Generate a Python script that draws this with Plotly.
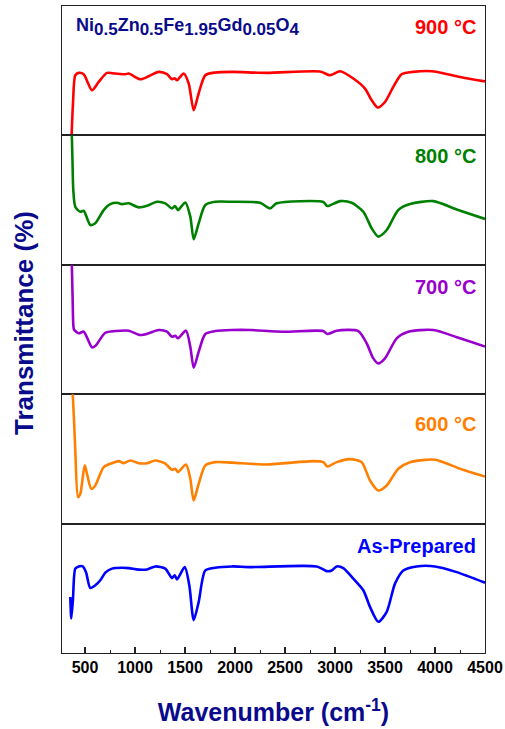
import plotly.graph_objects as go
from plotly.subplots import make_subplots

# Wavenumber (cm^-1) and transmittance (arb. units per panel)
wn_900 = [365, 380, 403, 437, 487, 570, 637, 720, 803, 903, 937, 1053, 1137, 1237, 1320, 1370, 1397, 1420,
          1487, 1537, 1587, 1637, 1703, 1803, 1970, 2317, 2850, 2950, 3050, 3183, 3300, 3367, 3427, 3500,
          3583, 3667, 3783, 3967, 4250, 4500]
t_900 = [-2, 25, 46.5, 48.3, 47.3, 34.9, 41.3, 48.3, 47.8, 47.3, 47.8, 43.4, 45.7, 49.1, 47.3, 43.4, 44.2, 42.6,
         47.8, 40.1, 19.4, 32.6, 46.5, 48.6, 49.1, 48.3, 49.4, 46.5, 49.6, 44.0, 36.2, 27.1, 21.5, 25.8,
         37.5, 47.3, 49.1, 49.6, 45.2, 41.7]

wn_800 = [367, 375, 383, 403, 453, 487, 553, 603, 687, 753, 820, 870, 937, 1037, 1120, 1220, 1303, 1370, 1400,
          1430, 1503, 1553, 1587, 1637, 1703, 1803, 1970, 2250, 2350, 2417, 2883, 2923, 3050, 3167, 3283,
          3367, 3433, 3517, 3633, 3750, 3983, 4217, 4500]
t_800 = [104, 80, 57.7, 44.8, 41.0, 41.8, 30.8, 32.1, 42.3, 46.9, 47.9, 46.9, 47.5, 44.4, 45.6, 48.7, 47.5, 43.6,
         45.4, 42.3, 48.2, 37.2, 19.8, 32.1, 46.2, 48.7, 48.7, 47.9, 43.6, 47.5, 48.5, 45.4, 49.2, 47.9, 41.0,
         28.2, 21.8, 26.9, 42.3, 46.9, 49.2, 42.8, 35.4]

wn_700 = [367, 376, 383, 390, 437, 487, 570, 603, 703, 803, 937, 1053, 1137, 1237, 1320, 1370, 1403, 1430, 1510,
          1553, 1587, 1637, 1703, 1803, 1970, 2150, 2483, 2883, 2923, 3017, 3233, 3317, 3383, 3433, 3500,
          3617, 3733, 3983, 4250, 4500]
t_700 = [104, 75, 53.5, 50.0, 47.1, 48.3, 36.2, 37.2, 47.5, 48.8, 49.1, 45.7, 47.1, 49.6, 48.3, 44.4, 45.2, 43.2,
         49.1, 36.7, 20.4, 32.8, 46.5, 48.8, 49.6, 49.6, 48.3, 48.8, 46.5, 49.1, 48.8, 39.3, 27.7, 23.8, 27.7,
         43.2, 48.3, 49.6, 43.2, 36.8]

wn_600 = [375, 390, 403, 430, 453, 497, 520, 563, 603, 687, 770, 837, 887, 953, 1037, 1120, 1203, 1303, 1370,
          1403, 1430, 1510, 1553, 1587, 1637, 1703, 1803, 1970, 2317, 2783, 2883, 2923, 3017, 3150, 3267,
          3350, 3433, 3517, 3633, 3750, 4000, 4250, 4500]
t_600 = [104, 80, 56.6, 20.4, 23.0, 45.0, 38.5, 26.9, 29.5, 43.6, 46.7, 48.3, 46.7, 48.8, 46.7, 46.7, 48.8, 46.3,
         41.6, 42.4, 39.8, 45.7, 34.7, 17.8, 30.8, 45.0, 47.5, 47.1, 45.7, 48.3, 47.5, 44.2, 47.5, 49.8, 47.5,
         33.3, 25.6, 29.5, 42.4, 47.5, 49.4, 42.4, 36.3]

wn_ap = [353, 363, 380, 403, 437, 477, 510, 553, 603, 653, 703, 770, 870, 937, 1037, 1120, 1203, 1303, 1370,
         1397, 1420, 1497, 1543, 1587, 1637, 1703, 1803, 1970, 2150, 2817, 2917, 2967, 3017, 3083, 3183,
         3283, 3350, 3433, 3517, 3600, 3683, 3817, 4000, 4217, 4500]
t_ap = [43.3, 26.7, 42.1, 65.2, 66.9, 66.9, 62.5, 50.2, 52.3, 56.2, 62.1, 65.2, 65.9, 65.6, 64.4, 64.6, 66.9,
        65.2, 57.9, 60.0, 56.9, 66.4, 52.3, 25.4, 39.5, 63.8, 65.9, 66.9, 66.4, 66.9, 63.3, 63.8, 66.9, 65.6,
        57.5, 48.5, 35.6, 24.1, 31.8, 53.6, 63.8, 66.9, 66.9, 62.5, 54.3]

series = [
    ("900 °C", wn_900, t_900, "#ff0000", 84),
    ("800 °C", wn_800, t_800, "#008000", 84),
    ("700 °C", wn_700, t_700, "#9900cc", 83),
    ("600 °C", wn_600, t_600, "#ff8000", 77),
    ("As-Prepared", wn_ap, t_ap, "#0000ff", 83),
]

x_ticks = [500, 1000, 1500, 2000, 2500, 3000, 3500, 4000, 4500]
x_range = [270, 4500]
navy = "#0a0a8c"
FONT = "Liberation Sans, Arial, sans-serif"

fig = make_subplots(rows=5, cols=1, shared_xaxes=True, vertical_spacing=0)

for i, (name, wn, t, color, ly) in enumerate(series, start=1):
    fig.add_trace(go.Scatter(x=wn, y=t, mode="lines", name=name,
                             line=dict(color=color, width=2.6, shape="spline", smoothing=0.7),
                             showlegend=False),
                  row=i, col=1)
    fig.add_annotation(x=4430, y=ly, xref=f"x{i}" if i > 1 else "x", yref=f"y{i}" if i > 1 else "y",
                       text=f"<b>{name}</b>", showarrow=False, xanchor="right", yanchor="middle",
                       font=dict(family=FONT, size=20, color=color))
    fig.update_yaxes(range=[0, 100], showticklabels=False, ticks="", showgrid=False, zeroline=False,
                     showline=True, linecolor="#222222", linewidth=1.3, mirror=True, automargin=False,
                     row=i, col=1)
    fig.update_xaxes(range=x_range, showgrid=False, zeroline=False, showline=True, automargin=False,
                     linecolor="#222222", linewidth=1.3, mirror=True, row=i, col=1)

sub = '<sub><span style="font-size:17px">{}</span></sub>'
formula = ("<b>Ni" + sub.format("0.5") + "Zn" + sub.format("0.5") + "Fe" + sub.format("1.95")
           + "Gd" + sub.format("0.05") + "O" + sub.format("4") + "</b>")
fig.add_annotation(x=390, y=84, xref="x", yref="y", text=formula,
                   showarrow=False, xanchor="left", yanchor="middle",
                   font=dict(family=FONT, size=18, color=navy))

fig.update_xaxes(tickvals=x_ticks, ticktext=[str(v) for v in x_ticks], ticks="inside", ticklen=6,
                 tickwidth=1.5, tickcolor="#222222",
                 tickfont=dict(family=FONT, size=16, color="black", weight="bold"),
                 minor=dict(dtick=250, tick0=250, ticks="inside", ticklen=3, tickwidth=1.2, tickcolor="#222222"),
                 title=dict(text="<b>Wavenumber (cm<sup>-1</sup>)</b>", standoff=28,
                            font=dict(family=FONT, size=25, color=navy)),
                 row=5, col=1)

fig.add_annotation(x=0.0, y=0.51, xref="paper", yref="paper", xshift=-55,
                   text="<b>Transmittance (%)</b>", textangle=-90, showarrow=False,
                   font=dict(family=FONT, size=26, color=navy))

fig.update_layout(width=505, height=729, margin=dict(l=62, r=20, t=6, b=76),
                  paper_bgcolor="white", plot_bgcolor="white", showlegend=False)

fig.write_html("out.html", config={"displayModeBar": False},
               post_script="document.body.style.margin='0';document.body.style.overflow='hidden';")
